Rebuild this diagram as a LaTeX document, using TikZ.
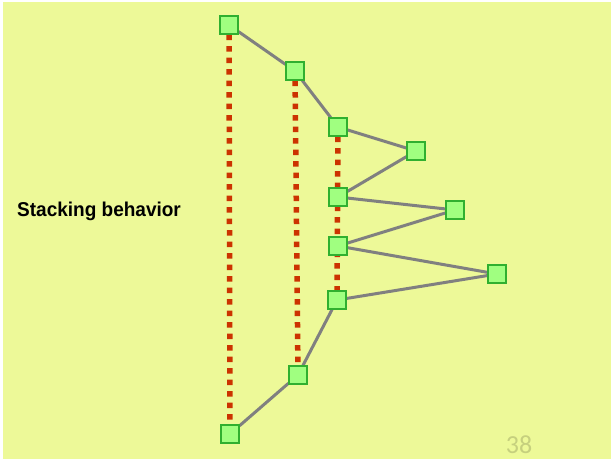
\documentclass[tikz,border=0pt]{standalone}
\usepackage{fontspec}
\setmainfont{Liberation Sans}
\newfontfamily\titlefont[FakeStretch=0.95]{Liberation Sans}
\newfontfamily\pagenofont{Carlito}
\usetikzlibrary{backgrounds}
\definecolor{slidebg}{RGB}{237,249,152}
\definecolor{boxfill}{RGB}{160,255,128}
\definecolor{boxline}{RGB}{48,176,48}
\definecolor{linkgray}{RGB}{128,128,128}
\definecolor{stackred}{RGB}{204,51,0}
\definecolor{pagegray}{RGB}{198,208,126}

\begin{document}
\begin{tikzpicture}[x=1pt,y=-1pt,
  frame/.style={draw=boxline,fill=boxfill,line width=1.6pt,minimum size=17.5pt,inner sep=0pt},
  link/.style={linkgray,line width=3pt},
  stack/.style={stackred,line width=5.5pt,dash pattern=on 5.5pt off 6pt}]
\useasboundingbox (0,0) rectangle (613,461);
\node [anchor=west,inner sep=0pt] (title) at (17,211) {\titlefont\fontsize{20}{22}\selectfont\bfseries Stacking behavior};
\node [pagegray] (pageno) at (519,445) {\pagenofont\fontsize{26}{28}\selectfont 38};
% call frames
\node [frame] (a) at (229,25) {};
\node [frame] (b) at (295,71) {};
\node [frame] (c) at (338,127) {};
\node [frame] (d) at (416,151) {};
\node [frame] (e) at (338,197) {};
\node [frame] (f) at (455,210) {};
\node [frame] (g) at (338,246) {};
\node [frame] (h) at (497,274) {};
\node [frame] (i) at (337,300) {};
\node [frame] (j) at (298,375) {};
\node [frame] (k) at (230,434) {};
\begin{scope}[on background layer]
\fill[slidebg] (3,2) rectangle (611,459);
\draw [stack] (a) -- (k);
\draw [stack] (b) -- (j);
\draw [stack] (c) -- (i);
\draw [link] (a) -- (b) -- (c) -- (d) -- (e) -- (f) -- (g) -- (h) -- (i) -- (j) -- (k);
\end{scope}
\end{tikzpicture}
\end{document}
